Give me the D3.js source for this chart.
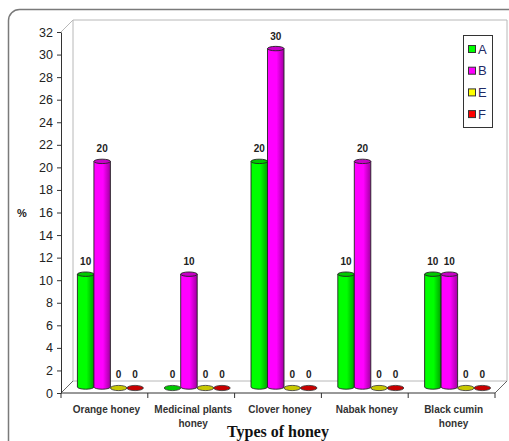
<!DOCTYPE html>
<html>
<head>
<meta charset="utf-8">
<script src="https://cdn.jsdelivr.net/npm/d3@7"></script>
<style>
  html, body { margin: 0; padding: 0; background: #fff; }
  svg { display: block; }
</style>
</head>
<body>
<svg id="chart" width="509" height="441"></svg>
<script>
// Honey types and the share (%) of samples in each class
const categories = ["Orange honey", "Medicinal plants honey", "Clover honey", "Nabak honey", "Black cumin honey"];
const categoryLines = [["Orange honey"], ["Medicinal plants", "honey"], ["Clover honey"], ["Nabak honey"], ["Black cumin", "honey"]];
const seriesNames = ["A", "B", "E", "F"];
const valuesA = [10, 0, 20, 10, 10];
const valuesB = [20, 10, 30, 20, 10];
const valuesE = [0, 0, 0, 0, 0];
const valuesF = [0, 0, 0, 0, 0];
const yTicks = d3.range(0, 33, 2);

const seriesValues = [valuesA, valuesB, valuesE, valuesF];
const colors = ["#00ff00", "#ff00ff", "#ffff00", "#ff0000"];
const shades = ["#00a000", "#a000a0", "#a0a000", "#a00000"];
const tops = ["#00c800", "#c800c8", "#c8c800", "#c80000"];

const svg = d3.select("#chart");

// outer rounded frame
svg.append("rect")
  .attr("x", 8.5).attr("y", 9.5).attr("width", 530).attr("height", 445)
  .attr("rx", 11).attr("fill", "none").attr("stroke", "#7a7a7a").attr("stroke-width", 1.5);

const left = 61, right = 495, depth = 12;
const y = d3.scaleLinear().domain([0, 32]).range([393, 32]);
const x0 = d3.scaleBand().domain(categories).range([left, right]).paddingInner(0.24).paddingOuter(0.12);
const x1 = d3.scaleBand().domain(seriesNames).range([0, x0.bandwidth()]);

// 3D back wall and floor
const wall = svg.append("g").attr("fill", "none").attr("stroke", "#b8b8b8").attr("stroke-width", 1);
wall.append("path")
  .attr("d", `M${left},${y(32)}L${left + depth},${y(32) - depth}L${right + depth},${y(32) - depth}L${right + depth},${y(0) - depth}L${left + depth},${y(0) - depth}L${left + depth},${y(32) - depth}`);
wall.append("path")
  .attr("d", `M${left},${y(0)}L${left + depth},${y(0) - depth}M${right},${y(0)}L${right + depth},${y(0) - depth}`)
  .attr("stroke", "#666");

// y axis
const yAxis = svg.append("g").attr("transform", `translate(${left},0)`)
  .call(d3.axisLeft(y).tickValues(yTicks).tickSize(4).tickSizeOuter(0));
yAxis.select(".domain").attr("stroke", "#333");
yAxis.selectAll(".tick line").attr("stroke", "#333");
yAxis.selectAll("text").attr("font-family", "Arial, 'Liberation Sans', sans-serif")
  .attr("font-size", 12.5).attr("fill", "#222").attr("dx", -1);

// x axis baseline with ticks at band boundaries
const xa = svg.append("g");
xa.append("line").attr("x1", left).attr("x2", right).attr("y1", y(0)).attr("y2", y(0)).attr("stroke", "#333");
const step = x0.step();
d3.range(categories.length + 1).forEach(i => {
  const xt = left + i * step;
  xa.append("line").attr("x1", xt).attr("x2", xt).attr("y1", y(0)).attr("y2", y(0) + 5).attr("stroke", "#333");
});

// category labels
categories.forEach((c, i) => {
  const t = svg.append("text")
    .attr("x", x0(c) + x0.bandwidth() / 2 + 2)
    .attr("y", 413)
    .attr("text-anchor", "middle")
    .attr("font-family", "Arial, 'Liberation Sans', sans-serif")
    .attr("font-size", 10).attr("font-weight", "bold").attr("fill", "#333");
  categoryLines[i].forEach((ln, j) => {
    t.append("tspan").attr("x", x0(c) + x0.bandwidth() / 2 + 2).attr("dy", j === 0 ? 0 : 14).text(ln);
  });
});

// gradients for cylinder bodies
const defs = svg.append("defs");
colors.forEach((col, i) => {
  const g = defs.append("linearGradient").attr("id", "grad" + i).attr("x1", "0%").attr("x2", "100%");
  g.append("stop").attr("offset", "0%").attr("stop-color", col);
  g.append("stop").attr("offset", "55%").attr("stop-color", col);
  g.append("stop").attr("offset", "100%").attr("stop-color", shades[i]);
});

// cylinders
const off = depth / 2;
const bars = svg.append("g");
categories.forEach((c, ci) => {
  seriesNames.forEach((s, si) => {
    const v = seriesValues[si][ci];
    const bx = x0(c) + x1(s) + off;
    const w = x1.bandwidth();
    const cx = bx + w / 2;
    const base = y(0) - off;
    const top = y(v) - off;
    const ry = 2.2;
    if (v > 0) {
      bars.append("path")
        .attr("d", `M${bx},${top}L${bx},${base}A${w / 2},${ry} 0 0 0 ${bx + w},${base}L${bx + w},${top}Z`)
        .attr("fill", `url(#grad${si})`).attr("stroke", "#222").attr("stroke-width", 0.9);
      bars.append("ellipse")
        .attr("cx", cx).attr("cy", top).attr("rx", w / 2).attr("ry", ry)
        .attr("fill", tops[si]).attr("stroke", "#222").attr("stroke-width", 0.9);
    } else {
      bars.append("ellipse")
        .attr("cx", cx).attr("cy", base + 1).attr("rx", w / 2).attr("ry", 2.6)
        .attr("fill", tops[si]).attr("stroke", "#333").attr("stroke-width", 0.8);
    }
    bars.append("text")
      .attr("x", cx).attr("y", top - 9)
      .attr("text-anchor", "middle")
      .attr("font-family", "Arial, 'Liberation Sans', sans-serif")
      .attr("font-size", 10).attr("font-weight", "bold").attr("fill", "#222")
      .text(v);
  });
});

// axis titles
svg.append("text").attr("x", 278).attr("y", 437).attr("text-anchor", "middle")
  .attr("font-family", "'Liberation Serif', 'Times New Roman', serif")
  .attr("font-size", 16).attr("font-weight", "bold").attr("fill", "#111")
  .text("Types of honey");
svg.append("text").attr("x", 22).attr("y", 217).attr("text-anchor", "middle")
  .attr("font-family", "Arial, 'Liberation Sans', sans-serif")
  .attr("font-size", 11).attr("font-weight", "bold").attr("fill", "#222")
  .text("%");

// legend
const lg = svg.append("g");
lg.append("rect").attr("x", 463.5).attr("y", 35.5).attr("width", 29).attr("height", 92)
  .attr("fill", "#fff").attr("stroke", "#333").attr("stroke-width", 1);
seriesNames.forEach((s, i) => {
  const ly = 49 + i * 21.7;
  lg.append("rect").attr("x", 468.5).attr("y", ly - 3.5).attr("width", 7).attr("height", 7)
    .attr("fill", colors[i]).attr("stroke", "#333").attr("stroke-width", 1);
  lg.append("text").attr("x", 478).attr("y", ly + 4.5)
    .attr("font-family", "Arial, 'Liberation Sans', sans-serif")
    .attr("font-size", 13).attr("fill", "#1f2a66").text(s);
});
</script>
</body>
</html>
